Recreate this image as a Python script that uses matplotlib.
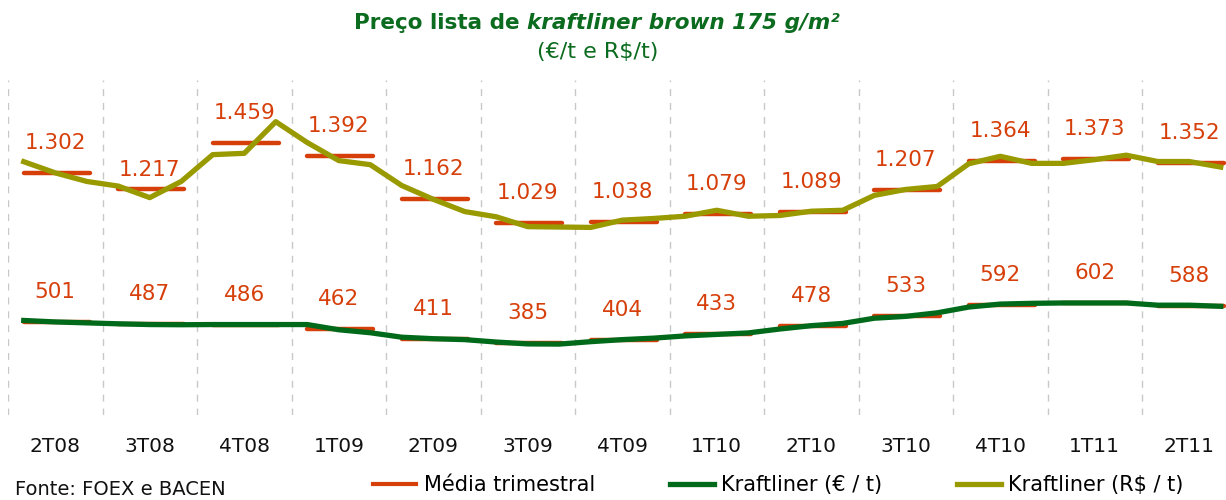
import numpy as np
import matplotlib
matplotlib.use('Agg')
import matplotlib.pyplot as plt

# trimestres
quarters = ['2T08', '3T08', '4T08', '1T09', '2T09', '3T09', '4T09',
            '1T10', '2T10', '3T10', '4T10', '1T11', '2T11']

# preço mensal em R$/t (3 meses por trimestre)
brl_monthly = [1361, 1301, 1255,
               1230, 1168, 1255,
               1399, 1406, 1576,
               1464, 1367, 1345,
               1233, 1159, 1093,
               1065, 1012, 1010,
               1008, 1047, 1056,
               1068, 1100, 1068,
               1072, 1095, 1100,
               1180, 1212, 1228,
               1350, 1390, 1352,
               1352, 1372, 1396,
               1362, 1362, 1332]

# preço mensal em €/t
eur_monthly = [508, 500, 495,
               490, 486, 485,
               486, 486, 486,
               486, 458, 442,
               418, 410, 405,
               392, 382, 381,
               394, 405, 413,
               425, 433, 441,
               462, 480, 492,
               520, 530, 549,
               580, 596, 600,
               602, 602, 602,
               590, 590, 584]

# médias trimestrais
brl_avg = [1302, 1217, 1459, 1392, 1162, 1029, 1038, 1079, 1089, 1207, 1364, 1373, 1352]
eur_avg = [501, 487, 486, 462, 411, 385, 404, 433, 478, 533, 592, 602, 588]

RED = '#D63F0A'
DKGREEN = '#006A1A'
OLIVE = '#999900'
TITLE_GREEN = '#0B6B1E'

fig = plt.figure(figsize=(12.26, 5.0), dpi=100)
W, H = 1226.0, 500.0
month_px = 31.5
ax = fig.add_axes([8 / W, 1 - 415 / H, 39 * month_px / W, 335 / H])
ax.set_xlim(0, 39)
ax.set_ylim(0, 1800)

# linhas de grade verticais entre trimestres
for b in range(0, 39, 3):
    ax.axvline(b, color='#C8C8C8', lw=1, ls=(0, (5, 5)), zorder=0)

x = np.arange(len(brl_monthly)) + 0.5

# médias trimestrais (barras horizontais)
for q in range(len(quarters)):
    x0, x1 = q * 3 + 0.5, q * 3 + 2.6
    ax.plot([x0, x1], [brl_avg[q], brl_avg[q]], color=RED, lw=3.2, zorder=2,
            solid_capstyle='round')
    ax.plot([x0, x1], [eur_avg[q], eur_avg[q]], color=RED, lw=3.2, zorder=2,
            solid_capstyle='round')

ln_eur, = ax.plot(x, eur_monthly, color=DKGREEN, lw=3.8, zorder=3,
                  solid_joinstyle='round')
ln_brl, = ax.plot(x, brl_monthly, color=OLIVE, lw=3.8, zorder=3,
                  solid_joinstyle='round')

# rótulos das médias
for q in range(len(quarters)):
    xc = q * 3 + 1.5
    off = 19 if q == 1 else 30
    lbl = f"{brl_avg[q]:,}".replace(',', '.')
    ax.annotate(lbl, (xc, brl_avg[q]), xytext=(0, off), textcoords='offset pixels',
                ha='center', va='center', color=RED, fontsize=15.5)
    ax.annotate(str(eur_avg[q]), (xc, eur_avg[q]), xytext=(0, 30),
                textcoords='offset pixels', ha='center', va='center',
                color=RED, fontsize=15.5)

ax.set_xticks(np.arange(len(quarters)) * 3 + 1.5)
ax.set_xticklabels(quarters, fontsize=14.5, color='#111111')
ax.tick_params(axis='x', length=0, pad=16)
ax.set_yticks([])
for s in ax.spines.values():
    s.set_visible(False)

# título (parte em itálico), centrado
t1 = fig.text(0, 1 - 29 / H, 'Preço lista de ', fontsize=15.5, fontweight='bold',
              color=TITLE_GREEN, ha='left', va='baseline')
t2 = fig.text(0, 1 - 29 / H, 'kraftliner brown 175 g/m²', fontsize=15.5,
              fontweight='bold', fontstyle='italic', color=TITLE_GREEN,
              ha='left', va='baseline')
fig.canvas.draw()
w1 = t1.get_window_extent().width
w2 = t2.get_window_extent().width
start = 597 - (w1 + w2) / 2
t1.set_x(start / W)
t2.set_x((start + w1) / W)
fig.text(598 / W, 1 - 52 / H, '(€/t e R$/t)', fontsize=16, color=TITLE_GREEN,
         ha='center', va='center')

# legenda
leg_lines = [plt.Line2D([], [], color=RED, lw=3), ln_eur, ln_brl]
fig.legend(leg_lines, ['Média trimestral', 'Kraftliner (€ / t)', 'Kraftliner (R$ / t)'],
           loc='center', bbox_to_anchor=(778 / W, 1 - 485 / H), ncol=3, frameon=False,
           fontsize=15, handlelength=2.1, handletextpad=0.35, columnspacing=3.6)

fig.text(15 / W, 1 / H, 'Fonte: FOEX e BACEN', fontsize=14, color='#111111',
         ha='left', va='bottom')

fig.savefig('out.png', dpi=100)
